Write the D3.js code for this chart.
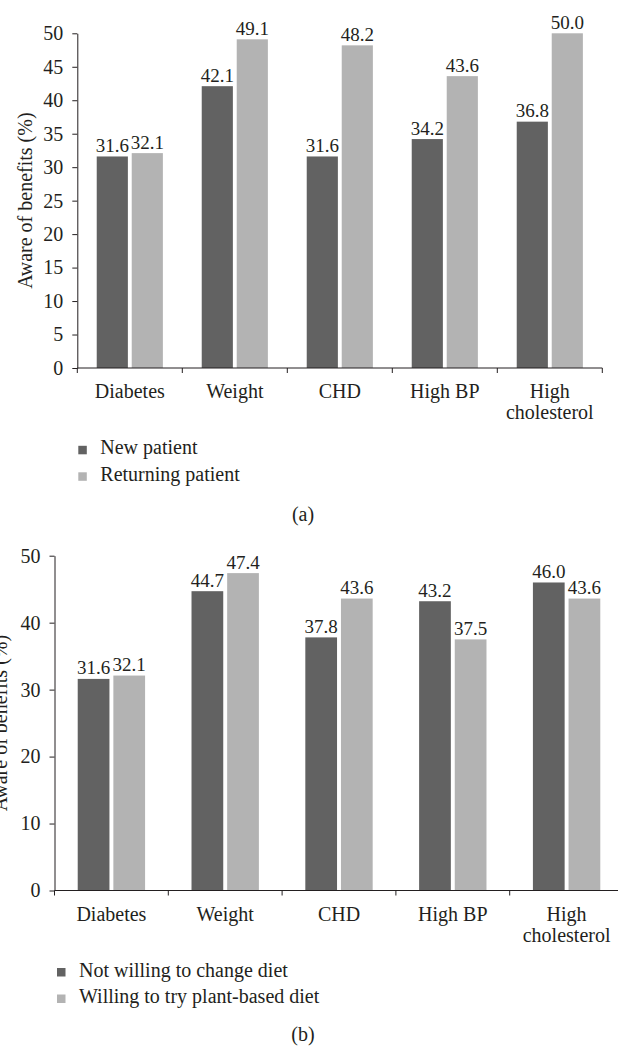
<!DOCTYPE html>
<html>
<head>
<meta charset="utf-8">
<script src="https://cdn.jsdelivr.net/npm/d3@7"></script>
<style>
  body { margin: 0; background: #fff; }
  svg text { font-family: "Liberation Serif", "DejaVu Serif", serif; fill: #231f20; }
</style>
</head>
<body>
<svg id="chart" width="618" height="1049"></svg>
<script>
// data
const categories = ["Diabetes", "Weight", "CHD", "High BP", "High cholesterol"];
const categoryLines = [["Diabetes"], ["Weight"], ["CHD"], ["High BP"], ["High", "cholesterol"]];

const newPatient = [31.6, 42.1, 31.6, 34.2, 36.8];
const returningPatient = [32.1, 49.1, 48.2, 43.6, 50.0];
const seriesA = ["New patient", "Returning patient"];
const ticksA = [0, 5, 10, 15, 20, 25, 30, 35, 40, 45, 50];

const notWilling = [31.6, 44.7, 37.8, 43.2, 46.0];
const willingPlant = [32.1, 47.4, 43.6, 37.5, 43.6];
const seriesB = ["Not willing to change diet", "Willing to try plant-based diet"];
const ticksB = [0, 10, 20, 30, 40, 50];

const colors = ["#626262", "#b3b3b3"];
const ink = "#231f20";

const svg = d3.select("#chart");
svg.append("rect").attr("width", 618).attr("height", 1049).attr("fill", "#fff");

function drawChart(opt) {
    const g = svg.append("g");

    const x0 = d3.scaleBand()
        .domain(categories)
        .range([opt.left, opt.right])
        .paddingInner(opt.pad)
        .paddingOuter(opt.pad / 2);
    const x1 = d3.scaleBand()
        .domain([0, 1])
        .range([0, x0.bandwidth()])
        .paddingInner(0.11);
    const y = d3.scaleLinear().domain([0, 50]).range([opt.bottom, opt.top]);

    // bars
    const rows = categories.map((c, i) => ({ c, vals: [opt.values[0][i], opt.values[1][i]] }));
    const grp = g.selectAll(".grp").data(rows).enter().append("g")
        .attr("transform", d => `translate(${x0(d.c)},0)`);
    grp.selectAll("rect").data(d => d.vals).enter().append("rect")
        .attr("x", (v, j) => x1(j))
        .attr("y", v => y(v))
        .attr("width", x1.bandwidth())
        .attr("height", v => y(0) - y(v))
        .attr("fill", (v, j) => colors[j]);
    grp.selectAll("text").data(d => d.vals).enter().append("text")
        .attr("x", (v, j) => x1(j) + x1.bandwidth() / 2)
        .attr("y", v => y(v) - 4.5)
        .attr("text-anchor", "middle")
        .attr("font-size", 19)
        .text(v => v.toFixed(1));

    // y axis
    const yAxis = g.append("g")
        .attr("transform", `translate(${opt.left},0)`)
        .call(d3.axisLeft(y).tickValues(opt.ticks).tickSize(5).tickPadding(9).tickSizeOuter(0));
    yAxis.select(".domain").attr("stroke", ink);
    yAxis.selectAll(".tick line").attr("stroke", ink);
    yAxis.selectAll(".tick text")
        .attr("font-size", 20)
        .attr("font-family", "Liberation Serif, DejaVu Serif, serif")
        .attr("fill", ink);

    // x axis line and boundary ticks
    g.append("line")
        .attr("x1", opt.left).attr("x2", opt.right)
        .attr("y1", y(0)).attr("y2", y(0))
        .attr("stroke", ink).attr("stroke-width", 1);
    const bounds = d3.range(categories.length + 1).map(i => opt.left + i * x0.step());
    g.selectAll(".xt").data(bounds).enter().append("line")
        .attr("x1", d => d).attr("x2", d => d)
        .attr("y1", y(0)).attr("y2", y(0) + 5)
        .attr("stroke", ink);

    // category labels
    const lab = g.selectAll(".cat").data(categoryLines).enter().append("text")
        .attr("text-anchor", "middle")
        .attr("font-size", 20)
        .attr("transform", (d, i) => `translate(${x0(categories[i]) + x0.bandwidth() / 2},${y(0) + 30})`);
    lab.selectAll("tspan").data(d => d).enter().append("tspan")
        .attr("x", 0)
        .attr("y", (d, k) => k * 21)
        .text(d => d);

    // y title
    g.append("text")
        .attr("transform", `translate(${opt.titleX},${(opt.top + opt.bottom) / 2}) rotate(-90)`)
        .attr("text-anchor", "middle")
        .attr("font-size", 20)
        .text("Aware of benefits (%)");

    // legend
    const leg = g.selectAll(".leg").data(opt.series).enter().append("g")
        .attr("transform", (d, i) => `translate(${opt.legX},${opt.legY + i * 26.5})`);
    leg.append("rect")
        .attr("x", 0).attr("y", -8.5)
        .attr("width", 8.5).attr("height", 8.5)
        .attr("fill", (d, i) => colors[i]);
    leg.append("text")
        .attr("x", 22).attr("y", 0)
        .attr("font-size", 20)
        .text(d => d);

    // panel label
    g.append("text")
        .attr("x", 303).attr("y", opt.capY)
        .attr("text-anchor", "middle")
        .attr("font-size", 20)
        .text(opt.caption);
}

drawChart({
    left: 77.3, right: 602.3, top: 33.3, bottom: 368,
    pad: 0.37, values: [newPatient, returningPatient], ticks: ticksA,
    titleX: 31.5, series: seriesA, legX: 78.3, legY: 454.3,
    caption: "(a)", capY: 521
});

drawChart({
    left: 54.5, right: 623.5, top: 555.7, bottom: 890.5,
    pad: 0.408, values: [notWilling, willingPlant], ticks: ticksB,
    titleX: 7, series: seriesB, legX: 57, legY: 976.5,
    caption: "(b)", capY: 1041
});
</script>
</body>
</html>
